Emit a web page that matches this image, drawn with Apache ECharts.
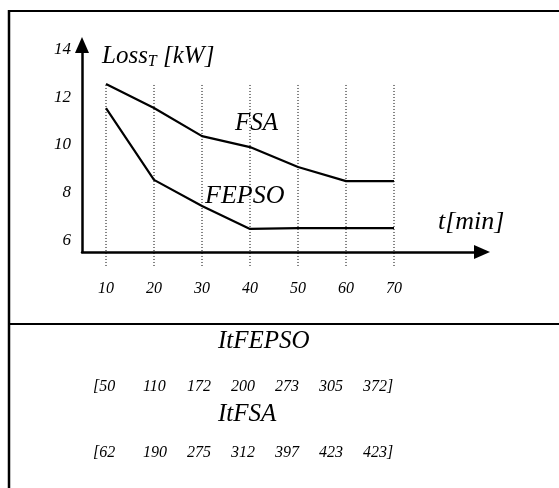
<!DOCTYPE html>
<html>
<head>
<meta charset="utf-8">
<script src="https://cdn.jsdelivr.net/npm/echarts@6/dist/echarts.min.js"></script>
<style>
  html, body { margin: 0; padding: 0; background: #fff; }
  #chart { width: 559px; height: 488px; }
</style>
</head>
<body>
<div id="chart"></div>
<script>
!function () {
    // data
    const times = [10, 20, 30, 40, 50, 60, 70];
    const lossFSA = [12.56, 11.55, 10.37, 9.91, 9.07, 8.48, 8.48];
    const lossFEPSO = [11.55, 8.53, 7.43, 6.47, 6.5, 6.5, 6.5];
    const yTicks = [6, 8, 10, 12, 14];
    const itFEPSO = [50, 110, 172, 200, 273, 305, 372];
    const itFSA = [62, 190, 275, 312, 397, 423, 423];
    const guideTop = 12.52;
    const guideBottom = 4.83;

    const serif = 'Liberation Serif';

    // dotted guide lines, one per time value
    const guides = times.map(function (t) {
        return {
            type: 'line',
            data: [[t, guideTop], [t, guideBottom]],
            symbol: 'none',
            clip: false,
            silent: true,
            lineStyle: { color: '#000', width: 1, type: [1, 2] },
            z: 1
        };
    });

    function curve(name, values) {
        return {
            name: name,
            type: 'line',
            data: times.map(function (t, i) { return [t, values[i]]; }),
            symbol: 'none',
            silent: true,
            lineStyle: { color: '#000', width: 2.2 },
            z: 3
        };
    }

    // iteration rows below the chart
    function row(values, y) {
        const els = [];
        values.forEach(function (v, i) {
            let txt = String(v);
            if (i === 0) txt = '[' + txt;
            if (i === values.length - 1) txt = txt + ']';
            els.push({
                type: 'text',
                left: i === 0 ? 93 : 143 + (i - 1) * 44,
                top: y - 9,
                style: { text: txt, font: 'italic 16px ' + serif, fill: '#000' }
            });
        });
        return els;
    }

    let graphics = [
        { type: 'line', shape: { x1: 9, y1: 11, x2: 559, y2: 11 }, style: { stroke: '#000', lineWidth: 2 } },
        { type: 'line', shape: { x1: 9, y1: 10, x2: 9, y2: 488 }, style: { stroke: '#000', lineWidth: 2.5 } },
        { type: 'line', shape: { x1: 9, y1: 324, x2: 559, y2: 324 }, style: { stroke: '#000', lineWidth: 2 } },
        {
            type: 'text', left: 102, top: 44,
            style: {
                text: '{a|Loss}{s|T}{a| [kW]}',
                rich: {
                    a: { font: 'italic 25px ' + serif, fill: '#000' },
                    s: { font: 'italic 16px ' + serif, fill: '#000', padding: [10, 0, 0, 0] }
                }
            }
        },
        { type: 'text', left: 438, top: 209, style: { text: 't[min]', font: 'italic 26px ' + serif, fill: '#000' } },
        { type: 'text', left: 235, top: 111, style: { text: 'FSA', font: 'italic 25px ' + serif, fill: '#000' } },
        { type: 'text', left: 205, top: 183, style: { text: 'FEPSO', font: 'italic 26px ' + serif, fill: '#000' } },
        { type: 'text', left: 218, top: 329, style: { text: 'ItFEPSO', font: 'italic 25px ' + serif, fill: '#000' } },
        { type: 'text', left: 218, top: 402, style: { text: 'ItFSA', font: 'italic 25px ' + serif, fill: '#000' } }
    ];
    graphics = graphics.concat(row(itFEPSO, 388), row(itFSA, 454));

    const option = {
        animation: false,
        backgroundColor: '#fff',
        grid: { left: 82, top: 45, width: 400, height: 207, containLabel: false },
        xAxis: {
            type: 'value',
            min: 5,
            max: 88.33,
            axisLine: { lineStyle: { color: '#000', width: 2.5 }, symbol: ['none', 'triangle'], symbolSize: [14, 16] },
            axisTick: { show: false },
            splitLine: { show: false },
            axisLabel: {
                customValues: times,
                margin: 29,
                color: '#000',
                fontFamily: serif,
                fontStyle: 'italic',
                fontSize: 16
            }
        },
        yAxis: {
            type: 'value',
            min: 5.5,
            max: 14.2,
            axisLine: { show: true, lineStyle: { color: '#000', width: 2.5 }, symbol: ['none', 'triangle'], symbolSize: [14, 16] },
            axisTick: { show: false },
            splitLine: { show: false },
            axisLabel: {
                customValues: yTicks,
                margin: 11,
                color: '#000',
                fontFamily: serif,
                fontStyle: 'italic',
                fontSize: 17
            }
        },
        series: guides.concat([curve('FSA', lossFSA), curve('FEPSO', lossFEPSO)]),
        graphic: graphics
    };

    let myChart = echarts.init(document.getElementById('chart'));
    myChart && myChart.setOption(option);
}()
</script>
</body>
</html>
